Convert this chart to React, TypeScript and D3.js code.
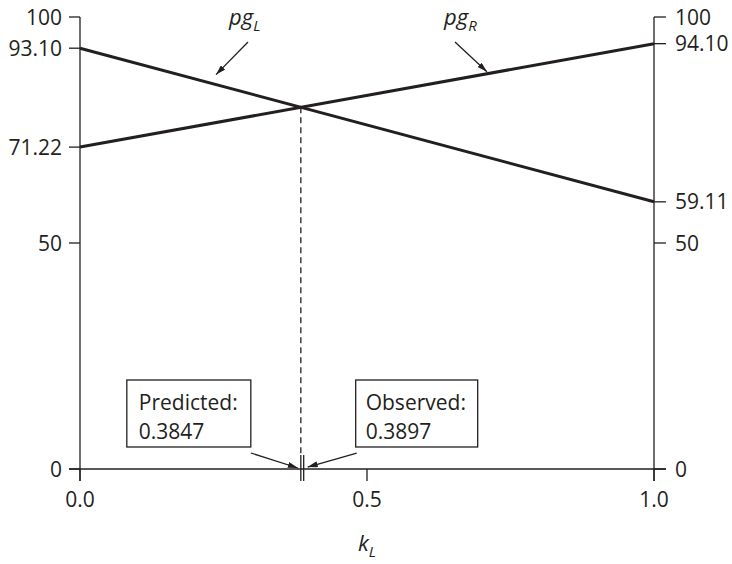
import React from "react";
import * as d3 from "d3";

// k_L domain and the two payoff lines (value at k_L = 0 and k_L = 1)
const kLDomain = [0, 1];
const pgLValues = [93.1, 59.11];
const pgRValues = [71.22, 94.1];

// axis ticks
const leftTicks = [0, 50, 71.22, 93.1, 100];
const rightTicks = [0, 50, 59.11, 94.1, 100];
const xTicks = [0, 0.5, 1];

// crossing estimates
const predictedK = 0.3847;
const observedK = 0.3897;
const predictedLines = ["Predicted:", "0.3847"];
const observedLines = ["Observed:", "0.3897"];

const W = 732;
const H = 564;
const INK = "#231f20";
const FONT = "'Open Sans', 'Noto Sans', sans-serif";
const FS = 21;

const fmtY = (v: number) => (Number.isInteger(v) ? String(v) : v.toFixed(2));
const fmtX = (v: number) => v.toFixed(1);

export default function App() {
  const x = d3.scaleLinear().domain(kLDomain).range([80, 654]);
  const y = d3.scaleLinear().domain([0, 100]).range([469, 17]);

  const line = d3
    .line<[number, number]>()
    .x((d) => x(d[0]))
    .y((d) => y(d[1]));

  const pgL: [number, number][] = kLDomain.map((k, i) => [k, pgLValues[i]]);
  const pgR: [number, number][] = kLDomain.map((k, i) => [k, pgRValues[i]]);

  // intersection of the two lines
  const slopeL = pgLValues[1] - pgLValues[0];
  const slopeR = pgRValues[1] - pgRValues[0];
  const kCross = (pgRValues[0] - pgLValues[0]) / (slopeL - slopeR);
  const vCross = pgLValues[0] + slopeL * kCross;

  const valL = (k: number) => pgLValues[0] + slopeL * k;
  const valR = (k: number) => pgRValues[0] + slopeR * k;

  const x0 = x(0);
  const x1 = x(1);
  const yTop = y(100);
  const yBase = y(0);

  // annotation arrows for the line labels
  const kArrowL = 0.237;
  const tipL = [x(kArrowL), y(valL(kArrowL)) - 10];
  const kArrowR = 0.709;
  const tipR = [x(kArrowR), y(valR(kArrowR)) - 2];

  const predX = x(predictedK);
  const obsX = x(observedK);
  const boxW = 124;
  const boxH = 67;
  const boxTop = 380;
  const predBoxX = predX - 50 - boxW;
  const obsBoxX = obsX + 52;

  return (
    <svg
      width={W}
      height={H}
      style={{ position: "absolute", left: 0, top: 0, background: "#fff" }}
      fontFamily={FONT}
      fontSize={FS}
      fill={INK}
    >
      <defs>
        <marker
          id="arrowhead"
          viewBox="0 0 10 6"
          refX={10}
          refY={3}
          markerWidth={10}
          markerHeight={6}
          markerUnits="userSpaceOnUse"
          orient="auto"
        >
          <path d="M0,0 L10,3 L0,6 Z" fill={INK} />
        </marker>
      </defs>

      {/* axes */}
      <g stroke={INK} strokeWidth={1.3} fill="none">
        <line x1={x0} y1={yTop} x2={x0} y2={yBase + 12} />
        <line x1={x1} y1={yTop} x2={x1} y2={yBase + 12} />
        <line x1={x0 - 11} y1={yBase} x2={x1 + 12} y2={yBase} />
        {leftTicks.map((t) => (
          <line key={"lt" + t} x1={x0 - 11} x2={x0} y1={y(t)} y2={y(t)} />
        ))}
        {rightTicks.map((t) => (
          <line key={"rt" + t} x1={x1} x2={x1 + 12} y1={y(t)} y2={y(t)} />
        ))}
        {xTicks.map((t) => (
          <line key={"xt" + t} x1={x(t)} x2={x(t)} y1={yBase} y2={yBase + 12} />
        ))}
      </g>

      {/* tick labels */}
      {leftTicks.map((t) => (
        <text key={"ll" + t} x={x0 - 18} y={y(t)} dy="0.36em" textAnchor="end">
          {fmtY(t)}
        </text>
      ))}
      {rightTicks.map((t) => (
        <text key={"rl" + t} x={x1 + 21} y={y(t)} dy="0.36em" textAnchor="start">
          {fmtY(t)}
        </text>
      ))}
      {xTicks.map((t) => (
        <text key={"xl" + t} x={x(t)} y={yBase + 38} textAnchor="middle">
          {fmtX(t)}
        </text>
      ))}

      {/* axis title */}
      <text x={x(0.5)} y={yBase + 82} fontStyle="italic" fontSize={22} textAnchor="middle">
        k
        <tspan fontSize={15} dy={6}>
          L
        </tspan>
      </text>

      {/* payoff lines */}
      <path d={line(pgL) || ""} stroke={INK} strokeWidth={3} fill="none" />
      <path d={line(pgR) || ""} stroke={INK} strokeWidth={3} fill="none" />

      {/* dashed drop from the crossing */}
      <line
        x1={x(kCross)}
        x2={x(kCross)}
        y1={y(vCross)}
        y2={yBase - 14}
        stroke={INK}
        strokeWidth={1.3}
        strokeDasharray="6 4"
      />

      {/* predicted / observed markers */}
      <g stroke={INK} strokeWidth={1.3}>
        <line x1={predX} x2={predX} y1={yBase - 14} y2={yBase + 12} />
        <line x1={obsX} x2={obsX} y1={yBase - 14} y2={yBase + 12} />
      </g>

      {/* line labels */}
      <text x={229} y={25} fontStyle="italic" fontSize={22}>
        pg
        <tspan fontSize={15} dy={6}>
          L
        </tspan>
      </text>
      <line
        x1={248}
        y1={42}
        x2={tipL[0]}
        y2={tipL[1]}
        stroke={INK}
        strokeWidth={1.3}
        markerEnd="url(#arrowhead)"
      />
      <text x={444} y={25} fontStyle="italic" fontSize={22}>
        pg
        <tspan fontSize={15} dy={6}>
          R
        </tspan>
      </text>
      <line
        x1={455}
        y1={42}
        x2={tipR[0]}
        y2={tipR[1]}
        stroke={INK}
        strokeWidth={1.3}
        markerEnd="url(#arrowhead)"
      />

      {/* callout boxes */}
      <rect
        x={predBoxX}
        y={boxTop}
        width={boxW}
        height={boxH}
        fill="#fff"
        stroke={INK}
        strokeWidth={1.3}
      />
      {predictedLines.map((s, i) => (
        <text key={"p" + i} x={predBoxX + 12} y={boxTop + 30 + i * 29}>
          {s}
        </text>
      ))}
      <line
        x1={predBoxX + boxW}
        y1={boxTop + boxH + 6}
        x2={predX - 3}
        y2={yBase - 1}
        stroke={INK}
        strokeWidth={1.3}
        markerEnd="url(#arrowhead)"
      />

      <rect
        x={obsBoxX}
        y={boxTop}
        width={boxW - 2}
        height={boxH}
        fill="#fff"
        stroke={INK}
        strokeWidth={1.3}
      />
      {observedLines.map((s, i) => (
        <text key={"o" + i} x={obsBoxX + 10} y={boxTop + 30 + i * 29}>
          {s}
        </text>
      ))}
      <line
        x1={obsBoxX + 1}
        y1={boxTop + boxH + 6}
        x2={obsX + 4}
        y2={yBase - 2}
        stroke={INK}
        strokeWidth={1.3}
        markerEnd="url(#arrowhead)"
      />
    </svg>
  );
}
